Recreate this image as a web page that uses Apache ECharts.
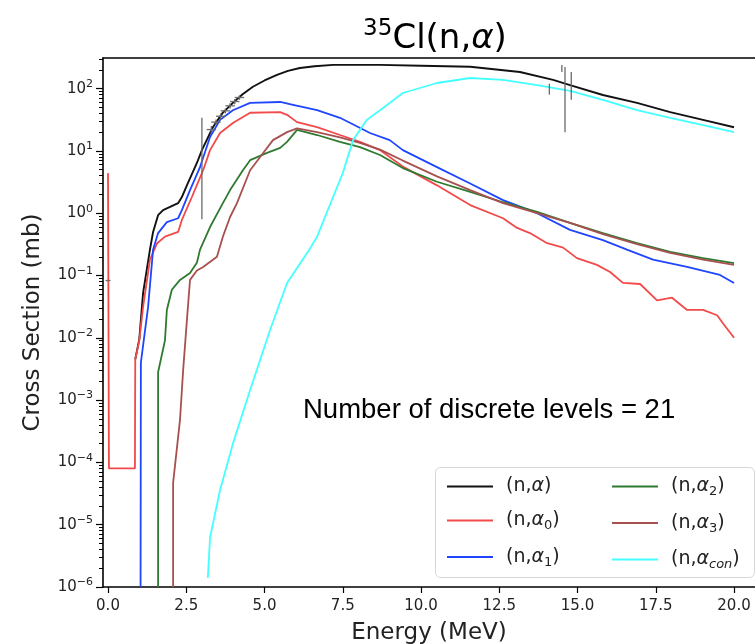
<!DOCTYPE html>
<html><head><meta charset="utf-8">
<script src="https://cdn.jsdelivr.net/npm/echarts@6/dist/echarts.min.js"></script>
<style>html,body{margin:0;padding:0;background:#fff}#c{width:755px;height:644px}</style>
</head><body><div id="c"></div>
<script>
// ---- data (Energy in MeV, cross section in mb) ----
const eTot = [0.87, 1.0, 1.12, 1.34, 1.44, 1.60, 1.76, 2.24, 2.36, 2.52, 2.84, 3.0, 3.35, 3.65, 3.99, 4.3, 4.63, 5.0, 5.40, 5.75, 6.13, 6.6, 7.19, 8.69, 10.0, 11.57, 13.16, 14.22, 14.76, 15.81, 16.9, 17.96, 19.01, 20.0];
const sTot = [0.0045, 0.0095, 0.052, 0.26, 0.50, 0.93, 1.12, 1.45, 1.82, 2.8, 6.4, 10.3, 24, 40, 59, 81, 107, 135, 166, 193, 214, 229, 240, 240, 233, 224, 185, 138, 114, 79, 59, 42, 31.5, 24];

const eA0 = [0.0, 0.03, 0.86, 0.87, 1.0, 1.12, 1.34, 1.57, 1.82, 2.24, 2.36, 2.68, 3.04, 3.26, 3.58, 3.99, 4.54, 5.5, 5.72, 6.04, 6.68, 7.41, 8.05, 8.69, 9.42, 10.51, 11.57, 12.62, 13.07, 13.48, 14.03, 14.54, 14.98, 15.62, 16.04, 16.45, 17.0, 17.54, 18.02, 18.5, 19.01, 19.46, 19.65, 20.0];
const sA0 = [4.4, 8e-5, 8e-5, 0.0045, 0.0091, 0.031, 0.18, 0.33, 0.42, 0.50, 0.78, 1.82, 4.9, 10.3, 19.4, 28, 41, 42, 38, 29, 24, 18, 14, 10.3, 5.6, 2.8, 1.35, 0.83, 0.58, 0.48, 0.33, 0.28, 0.19, 0.148, 0.114, 0.076, 0.073, 0.040, 0.044, 0.028, 0.028, 0.023, 0.017, 0.010];

const eA1 = [1.04, 1.05, 1.12, 1.28, 1.44, 1.6, 1.88, 2.24, 2.36, 2.62, 2.94, 3.26, 3.58, 3.99, 4.54, 5.5, 5.91, 6.68, 7.41, 8.37, 9.0, 9.42, 10.51, 11.57, 12.62, 13.71, 14.76, 15.81, 16.58, 17.41, 18.5, 19.55, 20.0];
const sA1 = [1e-6, 0.004, 0.0075, 0.031, 0.26, 0.48, 0.72, 0.83, 1.12, 2.35, 5.5, 16.7, 31.5, 45, 59, 61, 55, 45, 34, 19.4, 14.9, 10.3, 5.5, 3.0, 1.62, 1.0, 0.54, 0.37, 0.26, 0.18, 0.137, 0.102, 0.076];

const eA2 = [1.6, 1.6, 1.82, 1.88, 2.04, 2.30, 2.62, 2.84, 2.94, 3.26, 3.67, 3.9, 4.31, 4.54, 5.08, 5.5, 5.72, 6.04, 6.68, 7.41, 8.05, 8.69, 9.42, 10.51, 11.57, 12.62, 13.71, 14.76, 15.81, 16.9, 17.96, 19.01, 20.0];
const sA2 = [1e-6, 0.0028, 0.0091, 0.028, 0.059, 0.085, 0.11, 0.16, 0.26, 0.60, 1.45, 2.35, 4.9, 7.1, 9.3, 11.2, 14, 21.7, 18, 14, 11.5, 8.6, 5.3, 3.2, 2.2, 1.5, 1.05, 0.70, 0.48, 0.33, 0.24, 0.19, 0.158];

const eA3 = [2.08, 2.08, 2.30, 2.40, 2.52, 2.62, 2.84, 3.04, 3.48, 3.67, 3.9, 4.12, 4.54, 4.86, 5.27, 5.72, 6.04, 6.68, 7.41, 8.05, 8.69, 9.42, 10.51, 11.57, 12.62, 13.71, 14.76, 15.81, 16.9, 17.96, 19.01, 20.0];
const sA3 = [1e-6, 4.7e-5, 4.8e-4, 0.003, 0.019, 0.085, 0.12, 0.137, 0.20, 0.42, 0.87, 1.45, 4.9, 8.0, 14.9, 20, 23, 20, 16.5, 13.5, 10.5, 7.0, 3.9, 2.35, 1.45, 1.0, 0.70, 0.46, 0.32, 0.23, 0.18, 0.148];

const eCon = [3.19, 3.26, 3.58, 3.99, 4.54, 5.18, 5.72, 6.45, 6.68, 7.19, 7.5, 7.83, 8.27, 8.69, 9.42, 10.51, 11.57, 12.62, 13.71, 14.76, 15.81, 16.9, 17.96, 19.01, 20.0];
const sCon = [1.4e-6, 6.3e-6, 3.6e-5, 2.0e-4, 1.45e-3, 0.0135, 0.076, 0.27, 0.42, 1.82, 4.4, 14.9, 31.5, 45, 85, 123, 148, 138, 114, 92, 66, 45, 34, 26, 20];

// experimental points: energy, value, energy half-width, value error
const expE  = [0.0, 3.0, 3.3, 3.45, 3.6, 3.75, 3.9, 4.05, 4.2, 14.1, 14.5, 14.6, 14.8];
const expV  = [0.083, 17.4, 22, 29, 36, 44, 53, 62, 72, 100, 212, 121, 125];
const expDE = [0.08, 0, 0.15, 0.15, 0.15, 0.15, 0.15, 0.15, 0.15, 0, 0, 0, 0];
const expDV = [0, 16.6, 3, 3, 4, 4, 5, 6, 6, 20, 28, 101, 59];

const seriesNames = ['(n,α)', '(n,α0)', '(n,α1)', '(n,α2)', '(n,α3)', '(n,αcon)'];
const xTicks = [0, 2.5, 5, 7.5, 10, 12.5, 15, 17.5, 20];
const yMajor = [1e-6, 1e-5, 1e-4, 1e-3, 1e-2, 1e-1, 1, 10, 100];

// ---- chart ----
const yMin = 1e-6, yMax = 310, xMin = -0.16, xMax = 20.67;
const yMinor = [];
for (let n = -6; n <= 2; n++) for (let k = 2; k <= 9; k++) { const v = k * Math.pow(10, n); if (v <= yMax) yMinor.push(v); }

const FF = 'DejaVu Sans';
const subs = {'(n,α)': '', '(n,α0)': '0', '(n,α1)': '1', '(n,α2)': '2', '(n,α3)': '3', '(n,αcon)': 'con'};
function legendFmt(n) {
  const s = subs[n];
  let sub = '';
  if (s) sub = (s === 'con' ? '{si|' : '{s|') + s + '}';
  return '{g| }{t|(n,}{a|α}' + sub + '{t|)}';
}
const legendRich = {
  g: {width: 8},
  t: {fontSize: 19, lineHeight: 24, fontFamily: FF, color: '#222'},
  a: {fontSize: 19, lineHeight: 24, fontFamily: FF, fontStyle: 'italic', color: '#222'},
  s: {fontSize: 13, lineHeight: 13, fontFamily: FF, verticalAlign: 'bottom', color: '#222'},
  si: {fontSize: 13, lineHeight: 13, fontFamily: FF, fontStyle: 'italic', verticalAlign: 'bottom', color: '#222'}
};
const lineIcon = 'path://M0,0 L46,0 L46,2 L0,2 Z';

function mk(name, xs, ys, color, w) {
  return {name, type: 'line', data: xs.map((x, i) => [x, ys[i]]), symbol: 'none', showSymbol: false,
    lineStyle: {color, width: w}, itemStyle: {color}, clip: true, z: 2, silent: true};
}

const axisLineStyle = {color: '#000', width: 1.6};
const chart = echarts.init(document.getElementById('c'));
chart.setOption({
  animation: false,
  grid: {left: 103, top: 58, right: 0, bottom: 57, outerBoundsMode: 'none', containLabel: false},
  xAxis: [{
    type: 'value', min: xMin, max: xMax, position: 'bottom',
    axisLine: {show: true, onZero: false, lineStyle: axisLineStyle}, splitLine: {show: false},
    axisTick: {show: true, customValues: xTicks, length: 6, lineStyle: {color: '#000', width: 1.2}},
    axisLabel: {customValues: xTicks, formatter: v => v.toFixed(1), fontSize: 15, fontFamily: FF, color: '#222', margin: 12},
    name: 'Energy (MeV)', nameLocation: 'middle', nameGap: 35,
    nameTextStyle: {fontSize: 23, fontFamily: FF, color: '#222'}
  }, {
    type: 'value', min: xMin, max: xMax, position: 'top',
    axisLine: {show: true, onZero: false, lineStyle: axisLineStyle}, splitLine: {show: false},
    axisTick: {show: false}, axisLabel: {show: false}
  }],
  yAxis: [{
    type: 'log', logBase: 10, min: yMin, max: yMax, position: 'left',
    axisLine: {show: true, onZero: false, lineStyle: axisLineStyle}, splitLine: {show: false},
    axisTick: {show: true, customValues: yMajor, length: 7, lineStyle: {color: '#000', width: 1.2}},
    axisLabel: {customValues: yMajor, margin: 10,
      formatter: v => { const e = Math.round(Math.log10(v)); return '{b|10}{s|' + (e < 0 ? '−' + (-e) : e) + '}'; },
      rich: {b: {fontSize: 15, lineHeight: 20, fontFamily: FF, color: '#222'},
             s: {fontSize: 11, lineHeight: 11, fontFamily: FF, color: '#222', verticalAlign: 'top'}}},
    name: 'Cross Section (mb)', nameLocation: 'middle', nameGap: 58,
    nameTextStyle: {fontSize: 23, fontFamily: FF, color: '#222'}
  }, {
    type: 'log', logBase: 10, min: yMin, max: yMax, position: 'left',
    axisLine: {show: false, onZero: false}, splitLine: {show: false},
    axisLabel: {show: false},
    axisTick: {show: true, customValues: yMinor, length: 4, lineStyle: {color: '#000', width: 1}}
  }],
  legend: [{
    data: seriesNames.slice(0, 3), orient: 'vertical', left: 442, top: 472, itemWidth: 46, itemHeight: 24, itemGap: 15,
    icon: lineIcon, formatter: legendFmt, textStyle: {rich: legendRich}, selectedMode: false
  }, {
    data: seriesNames.slice(3), orient: 'vertical', left: 607, top: 472, itemWidth: 46, itemHeight: 24, itemGap: 15,
    icon: lineIcon, formatter: legendFmt, textStyle: {rich: legendRich}, selectedMode: false
  }],
  graphic: [
    {type: 'rect', z: 3, shape: {x: 435.5, y: 467.5, width: 319, height: 110, r: 5},
     style: {fill: 'rgba(255,255,255,0.8)', stroke: '#d6d6d6', lineWidth: 1}},
    {type: 'text', x: 303, y: 410, z: 3,
     style: {text: 'Number of discrete levels = 21', fontSize: 27.5, fontFamily: 'Liberation Sans', fill: '#000', verticalAlign: 'middle'}},
    {type: 'text', x: 435, y: 18, z: 3,
     style: {text: '{p|35}{m|Cl(n,}{a|α}{m|)}', align: 'center', verticalAlign: 'top',
       rich: {p: {fontSize: 23, lineHeight: 23, fontFamily: FF, fill: '#000', verticalAlign: 'top'},
              m: {fontSize: 34, lineHeight: 42, fontFamily: FF, fill: '#000'},
              a: {fontSize: 34, lineHeight: 42, fontFamily: FF, fontStyle: 'italic', fill: '#000'}}}}
  ],
  series: [
    mk(seriesNames[0], eTot, sTot, '#111111', 1.9),
    mk(seriesNames[1], eA0, sA0, '#f24a4a', 1.8),
    mk(seriesNames[2], eA1, sA1, '#1f45ff', 1.8),
    mk(seriesNames[3], eA2, sA2, '#2f7a2f', 1.8),
    mk(seriesNames[4], eA3, sA3, '#a85050', 1.8),
    mk(seriesNames[5], eCon, sCon, '#44ffff', 1.8),
    {
      type: 'custom', name: 'exp', z: 5, silent: true, clip: true,
      data: expE.map((x, i) => [x, expV[i], expDE[i], expDV[i]]),
      renderItem: (params, api) => {
        const x = api.value(0), y = api.value(1), dx = api.value(2), dy = api.value(3);
        const st = {stroke: '#6a6a6a', lineWidth: 1.3};
        const ch = [];
        if (dy > 0) {
          const a = api.coord([x, y + dy]), b = api.coord([x, Math.max(y - dy, 1e-7)]);
          ch.push({type: 'line', shape: {x1: a[0], y1: a[1], x2: b[0], y2: b[1]}, style: st});
        }
        if (dx > 0) {
          const a = api.coord([x - dx, y]), b = api.coord([x + dx, y]);
          ch.push({type: 'line', shape: {x1: a[0], y1: a[1], x2: b[0], y2: b[1]}, style: st});
        }
        return {type: 'group', children: ch};
      }
    }
  ]
});
</script>
</body></html>
